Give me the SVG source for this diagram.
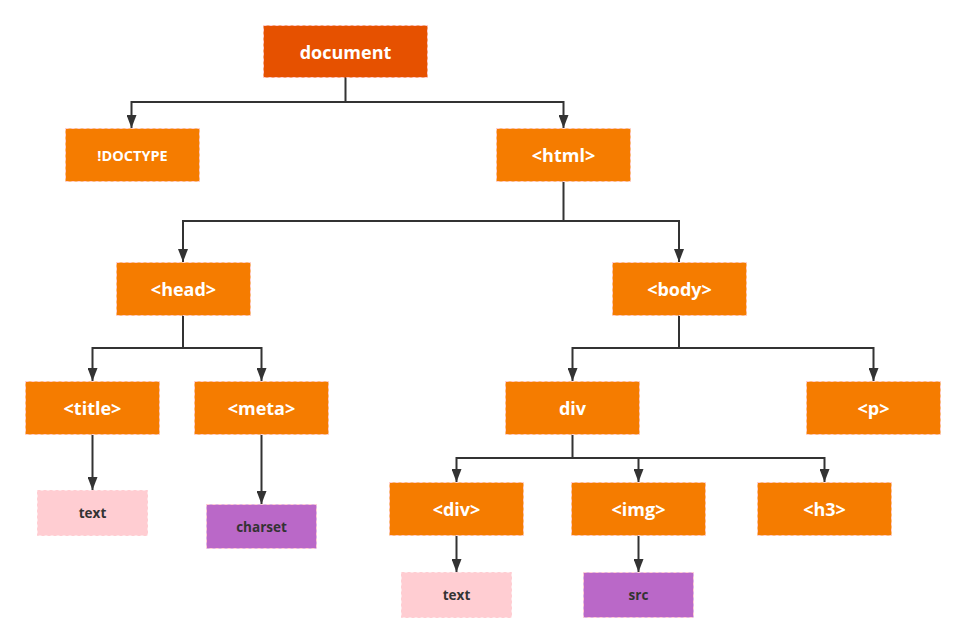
<svg xmlns="http://www.w3.org/2000/svg" width="966" height="643" viewBox="0 0 966 643">
<defs>
<marker id="arr" markerWidth="10" markerHeight="13" refX="5" refY="13" orient="0" markerUnits="userSpaceOnUse" viewBox="0 0 10 13">
<path d="M0,0 L10,0 L5,13 Z" fill="#333333"/>
</marker>
<style>
.box{stroke:#FFCDD2;stroke-width:1;stroke-dasharray:3 3}
.root{fill:#E65100}
.el{fill:#F57C00}
.txt{fill:#FFCDD2}
.attr{fill:#BA68C8}
.lw{font-family:"Open Sans","Noto Sans","Liberation Sans",sans-serif;font-weight:bold;fill:#FFFFFF;text-anchor:middle;dominant-baseline:central;font-size:18px}
.ld{font-family:"Open Sans","Noto Sans","Liberation Sans",sans-serif;font-weight:bold;fill:#333333;text-anchor:middle;dominant-baseline:central;font-size:13.5px}
.c{fill:none;stroke:#333333;stroke-width:2}
</style>
</defs>
<rect width="966" height="643" fill="#FFFFFF"/>
<g id="connectors">
<path class="c" d="M345.5,77 V102 H131.5 V128" marker-end="url(#arr)"/>
<path class="c" d="M345.5,102 H563.5 V128" marker-end="url(#arr)"/>
<path class="c" d="M563.5,181 V221 H183 V262" marker-end="url(#arr)"/>
<path class="c" d="M563.5,221 H679 V262" marker-end="url(#arr)"/>
<path class="c" d="M183,315 V348 H92.5 V381" marker-end="url(#arr)"/>
<path class="c" d="M183,348 H261.5 V381" marker-end="url(#arr)"/>
<path class="c" d="M679,315 V348 H572.5 V381" marker-end="url(#arr)"/>
<path class="c" d="M679,348 H873.5 V381" marker-end="url(#arr)"/>
<path class="c" d="M92.5,434 V490" marker-end="url(#arr)"/>
<path class="c" d="M261.5,434 V504" marker-end="url(#arr)"/>
<path class="c" d="M572.5,434 V458 H456.5 V482" marker-end="url(#arr)"/>
<path class="c" d="M572.5,458 H638.5 V482" marker-end="url(#arr)"/>
<path class="c" d="M572.5,458 H824.5 V482" marker-end="url(#arr)"/>
<path class="c" d="M456.5,535 V572" marker-end="url(#arr)"/>
<path class="c" d="M638.5,535 V572" marker-end="url(#arr)"/>
</g>
<g id="document"><rect class="box root" x="263.5" y="25.5" width="164" height="52"/><text class="lw" x="345.5" y="51.5">document</text></g>
<g id="doctype"><rect class="box el" x="65.5" y="128.5" width="134" height="53"/><text class="lw" x="132.5" y="155" style="font-size:14.5px">!DOCTYPE</text></g>
<g id="html"><rect class="box el" x="496.5" y="128.5" width="134" height="53"/><text class="lw" x="563.5" y="155">&lt;html&gt;</text></g>
<g id="head"><rect class="box el" x="116.5" y="262.5" width="134" height="53"/><text class="lw" x="183.5" y="289">&lt;head&gt;</text></g>
<g id="body"><rect class="box el" x="612.5" y="262.5" width="134" height="53"/><text class="lw" x="679.5" y="289">&lt;body&gt;</text></g>
<g id="title"><rect class="box el" x="25.5" y="381.5" width="134" height="53"/><text class="lw" x="92.5" y="408">&lt;title&gt;</text></g>
<g id="meta"><rect class="box el" x="194.5" y="381.5" width="134" height="53"/><text class="lw" x="261.5" y="408">&lt;meta&gt;</text></g>
<g id="div"><rect class="box el" x="505.5" y="381.5" width="134" height="53"/><text class="lw" x="572.5" y="408">div</text></g>
<g id="p"><rect class="box el" x="806.5" y="381.5" width="134" height="53"/><text class="lw" x="873.5" y="408">&lt;p&gt;</text></g>
<g id="div2"><rect class="box el" x="389.5" y="482.5" width="134" height="53"/><text class="lw" x="456.5" y="509">&lt;div&gt;</text></g>
<g id="img"><rect class="box el" x="571.5" y="482.5" width="134" height="53"/><text class="lw" x="638.5" y="509">&lt;img&gt;</text></g>
<g id="h3"><rect class="box el" x="757.5" y="482.5" width="134" height="53"/><text class="lw" x="824.5" y="509">&lt;h3&gt;</text></g>
<g id="text1"><rect class="box txt" x="37.5" y="490.5" width="110" height="45"/><text class="ld" x="92.5" y="513">text</text></g>
<g id="charset"><rect class="box attr" x="206.5" y="504.5" width="110" height="44"/><text class="ld" x="261.5" y="526.5">charset</text></g>
<g id="text2"><rect class="box txt" x="401.5" y="572.5" width="110" height="45"/><text class="ld" x="456.5" y="595">text</text></g>
<g id="src"><rect class="box attr" x="583.5" y="572.5" width="110" height="45"/><text class="ld" x="638.5" y="595">src</text></g>
</svg>
